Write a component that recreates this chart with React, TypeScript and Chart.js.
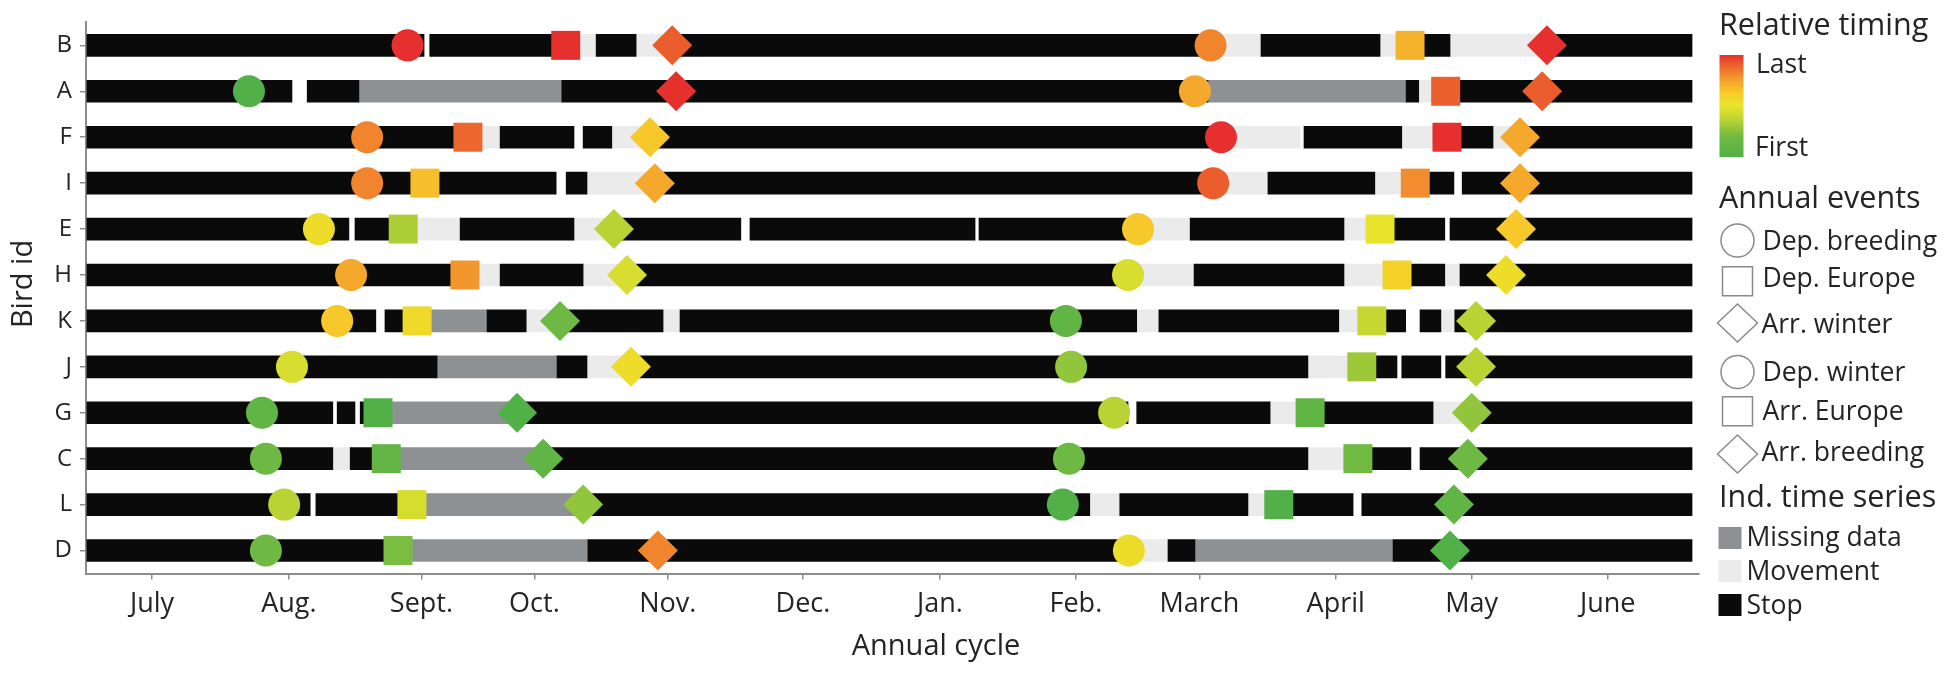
import React, { useEffect, useRef } from 'react';
import { Chart, registerables } from 'chart.js';

Chart.register(...registerables);

// ---------- data ----------
const birds = ['B', 'A', 'F', 'I', 'E', 'H', 'K', 'J', 'G', 'C', 'L', 'D'];

// x axis: days since 1 July (tick positions)
const monthTicks = [0, 31.5, 62, 88, 118.7, 149.8, 181.3, 212.6, 241, 272.4, 303.7, 335];
const monthLabels = ['July', 'Aug.', 'Sept.', 'Oct.', 'Nov.', 'Dec.', 'Jan.', 'Feb.', 'March', 'April', 'May', 'June'];

// annual events (day of cycle), order follows `birds`
const depBreeding = [58.8, 22.3, 49.5, 49.5, 38.4, 45.8, 42.6, 32.2, 25.3, 26.2, 30.4, 26.2];
const depEurope = [95.2, null, 72.7, 62.8, 57.8, 72.0, 61.0, null, 52.0, 53.9, 59.8, 56.6];
const arrWinter = [119.7, 120.6, 114.6, 115.7, 106.3, 109.3, 93.9, 110.2, 84.0, 90.0, 99.2, 116.4];
const depWinter = [243.6, 240.0, 246.0, 244.2, 226.9, 224.6, 210.3, 211.5, 221.4, 211.0, 209.6, 224.8];
const arrEurope = [289.5, 297.7, 298.0, 290.7, 282.6, 286.5, 280.7, 278.4, 266.5, 277.5, 259.3, null];
const arrBreeding = [321.0, 319.9, 314.8, 314.8, 313.9, 311.6, 304.7, 304.7, 303.7, 302.8, 299.6, 298.7];

// individual time series: [bird, start, end]
const stopSegments: [string, number, number][] = [
  ['B', -15, 62.6], ['B', 63.9, 95.0], ['B', 102.2, 111.4], ['B', 119.7, 243.6], ['B', 255.2, 282.6], ['B', 289.5, 298.7], ['B', 321.0, 354.4],
  ['A', -15, 32.2], ['A', 35.7, 47.6], ['A', 94.3, 243.0], ['A', 288.6, 291.5], ['A', 297.7, 354.4],
  ['F', -15, 72.7], ['F', 80.1, 97.1], ['F', 99.2, 105.8], ['F', 114.6, 246.0], ['F', 265.1, 287.6], ['F', 298.0, 308.6], ['F', 314.8, 354.4],
  ['I', -15, 93.0], ['I', 95.3, 100.1], ['I', 115.7, 244.2], ['I', 256.8, 281.4], ['I', 290.7, 299.6], ['I', 301.5, 354.4],
  ['E', -15, 45.3], ['E', 46.7, 57.8], ['E', 70.9, 97.1], ['E', 106.3, 135.5], ['E', 137.6, 189.4], ['E', 190.3, 226.9], ['E', 238.9, 274.3], ['E', 282.6, 297.5], ['E', 298.7, 354.4],
  ['H', -15, 72.0], ['H', 80.1, 99.2], ['H', 109.3, 224.6], ['H', 239.8, 274.3], ['H', 286.5, 297.5], ['H', 301.0, 354.4],
  ['K', -15, 51.5], ['K', 53.6, 61.0], ['K', 77.1, 86.1], ['K', 93.9, 117.6], ['K', 121.5, 226.6], ['K', 231.7, 273.1], ['K', 280.7, 288.5], ['K', 291.8, 296.6], ['K', 299.8, 354.4],
  ['J', -15, 65.6], ['J', 93.2, 100.1], ['J', 110.2, 266.0], ['J', 278.4, 286.5], ['J', 287.6, 296.6], ['J', 297.7, 354.4],
  ['G', -15, 41.6], ['G', 42.6, 46.7], ['G', 47.9, 52.0], ['G', 84.0, 224.6], ['G', 226.6, 257.3], ['G', 266.5, 294.8], ['G', 303.7, 354.4],
  ['C', -15, 41.6], ['C', 45.6, 53.9], ['C', 90.0, 266.0], ['C', 277.5, 289.7], ['C', 291.8, 354.4],
  ['L', -15, 36.4], ['L', 37.7, 59.8], ['L', 99.2, 215.8], ['L', 222.7, 252.2], ['L', 259.3, 276.4], ['L', 278.4, 354.4],
  ['D', -15, 56.6], ['D', 100.3, 224.6], ['D', 233.8, 240.0], ['D', 285.6, 354.4],
];
const movementSegments: [string, number, number][] = [
  ['B', 95.0, 102.2], ['B', 111.4, 119.7], ['B', 243.6, 255.2], ['B', 282.6, 289.5], ['B', 298.7, 321.0],
  ['A', 291.5, 297.7],
  ['F', 72.7, 80.1], ['F', 105.8, 114.6], ['F', 246.0, 264.2], ['F', 287.6, 298.0], ['F', 308.6, 314.8],
  ['I', 100.1, 115.7], ['I', 244.2, 256.8], ['I', 281.4, 290.7],
  ['E', 57.8, 70.9], ['E', 97.1, 106.3], ['E', 226.9, 238.9], ['E', 274.3, 282.6],
  ['H', 72.0, 80.1], ['H', 99.2, 109.3], ['H', 224.6, 239.8], ['H', 274.3, 286.5], ['H', 297.5, 301.0],
  ['K', 86.1, 93.9], ['K', 117.6, 121.5], ['K', 226.6, 231.7], ['K', 273.1, 280.7], ['K', 296.6, 299.8],
  ['J', 100.1, 110.2], ['J', 266.0, 278.4],
  ['G', 257.3, 266.5], ['G', 294.8, 303.7],
  ['C', 41.6, 45.6], ['C', 266.0, 277.5],
  ['L', 215.8, 222.7], ['L', 252.2, 259.3],
  ['D', 224.6, 233.8],
];
const missingSegments: [string, number, number][] = [
  ['A', 47.6, 94.3], ['A', 243.0, 288.6],
  ['K', 61.0, 77.1],
  ['J', 65.6, 93.2],
  ['G', 52.0, 84.0],
  ['C', 53.9, 90.0],
  ['L', 59.8, 99.2],
  ['D', 56.6, 100.3], ['D', 240.0, 285.6],
];

// ---------- styles ----------
const FONT = '"Open Sans", Lato, sans-serif';
const TEXT = '#242424';
const AXIS = '#8c8c8c';
const STOP = '#0a0a0a';
const MOVE = '#ebebeb';
const MISS = '#8e9194';

const gradStops: [number, number[]][] = [
  [0, [82, 176, 72]],
  [0.2, [112, 186, 66]],
  [0.36, [184, 210, 52]],
  [0.5, [232, 228, 44]],
  [0.62, [248, 206, 40]],
  [0.76, [243, 158, 46]],
  [0.89, [236, 102, 45]],
  [1, [229, 48, 46]],
];
function timingColor(t: number) {
  for (let i = 1; i < gradStops.length; i++) {
    const [t1, c1] = gradStops[i];
    const [t0, c0] = gradStops[i - 1];
    if (t <= t1) {
      const f = (t - t0) / (t1 - t0);
      const c = c0.map((v, k) => Math.round(v + (c1[k] - v) * f));
      return `rgb(${c[0]},${c[1]},${c[2]})`;
    }
  }
  const c = gradStops[gradStops.length - 1][1];
  return `rgb(${c[0]},${c[1]},${c[2]})`;
}
function rankColors(values: (number | null)[]) {
  const valid = values.filter((v) => v != null) as number[];
  const n = valid.length;
  return values
    .filter((v) => v != null)
    .map((v) => timingColor(valid.filter((u) => u < (v as number)).length / (n - 1)));
}

const eventDefs = [
  { label: 'Dep. breeding', values: depBreeding, style: 'circle', radius: 16 },
  { label: 'Dep. Europe', values: depEurope, style: 'rect', radius: 20.5 },
  { label: 'Arr. winter', values: arrWinter, style: 'rectRot', radius: 20 },
  { label: 'Dep. winter', values: depWinter, style: 'circle', radius: 16 },
  { label: 'Arr. Europe', values: arrEurope, style: 'rect', radius: 20.5 },
  { label: 'Arr. breeding', values: arrBreeding, style: 'rectRot', radius: 20 },
];

const overlayPlugin = {
  id: 'overlay',
  afterDraw(chart: any) {
    const ctx = chart.ctx as CanvasRenderingContext2D;
    ctx.save();
    ctx.fillStyle = TEXT;
    ctx.textBaseline = 'alphabetic';
    ctx.textAlign = 'center';
    ctx.font = `29px ${FONT}`;
    ctx.fillText('Annual cycle', 936, 655);
    ctx.save();
    ctx.translate(32, 284);
    ctx.rotate(-Math.PI / 2);
    ctx.fillText('Bird id', 0, 0);
    ctx.restore();

    // legend
    ctx.textAlign = 'left';
    const head = `30.5px ${FONT}`;
    const item = `26.5px ${FONT}`;
    ctx.font = head;
    ctx.fillText('Relative timing', 1719, 35);
    const g = ctx.createLinearGradient(0, 157, 0, 55);
    gradStops.forEach(([t, c]) => g.addColorStop(t, `rgb(${c[0]},${c[1]},${c[2]})`));
    ctx.fillStyle = g;
    ctx.fillRect(1719.5, 55, 24, 102);
    ctx.fillStyle = TEXT;
    ctx.font = item;
    ctx.fillText('Last', 1756, 73);
    ctx.fillText('First', 1755, 156);
    ctx.font = head;
    ctx.fillText('Annual events', 1719, 208);

    const symY = [240.5, 281.3, 323, 372, 411.3, 454];
    const textY = [250, 287, 333, 381, 419.5, 461];
    ctx.strokeStyle = '#8a8a8a';
    ctx.lineWidth = 1.5;
    eventDefs.forEach((ev, i) => {
      const cx = 1737.5, cy = symY[i];
      ctx.fillStyle = '#ffffff';
      ctx.beginPath();
      if (ev.style === 'circle') ctx.ellipse(cx, cy, 16.5, 16.5, 0, 0, Math.PI * 2);
      else if (ev.style === 'rect') ctx.rect(cx - 15, cy - 14.5, 30, 29);
      else { ctx.moveTo(cx - 20, cy); ctx.lineTo(cx, cy - 19); ctx.lineTo(cx + 20, cy); ctx.lineTo(cx, cy + 19); ctx.closePath(); }
      ctx.fill();
      ctx.stroke();
      ctx.fillStyle = TEXT;
      ctx.font = item;
      ctx.fillText(ev.label, ev.style === 'rectRot' ? 1761.5 : 1762.5, textY[i]);
    });

    ctx.font = head;
    ctx.fillText('Ind. time series', 1719, 507);
    const boxes: [string, string, number, number][] = [
      [MISS, 'Missing data', 527, 546],
      [MOVE, 'Movement', 560, 580],
      [STOP, 'Stop', 594, 613.5],
    ];
    ctx.font = item;
    boxes.forEach(([c, label, y, by]) => {
      ctx.fillStyle = c;
      ctx.fillRect(1718.5, y, 23, 22);
      ctx.fillStyle = TEXT;
      ctx.fillText(label, 1746.5, by);
    });
    ctx.restore();
  },
};

export default function App() {
  const ref = useRef<HTMLCanvasElement | null>(null);

  useEffect(() => {
    if (!ref.current) return;
    const segData = [
      ...missingSegments.map(([b, s, e]) => ({ x: [s, e], y: b, kind: 'miss' })),
      ...movementSegments.map(([b, s, e]) => ({ x: [s, e], y: b, kind: 'move' })),
      ...stopSegments.map(([b, s, e]) => ({ x: [s, e], y: b, kind: 'stop' })),
    ];
    const colorOf: Record<string, string> = { miss: MISS, move: MOVE, stop: STOP };

    const markerSets = eventDefs.map((ev) => {
      const pts = birds
        .map((b, i) => ({ x: ev.values[i] as number | null, y: b }))
        .filter((p) => p.x != null);
      const cols = rankColors(ev.values);
      return {
        type: 'scatter' as const,
        label: ev.label,
        data: pts,
        pointStyle: ev.style,
        pointRadius: ev.radius,
        pointHoverRadius: ev.radius,
        pointBackgroundColor: cols,
        pointBorderColor: cols,
        pointBorderWidth: 0,
        order: 1,
        clip: false,
      };
    });

    const chart = new Chart(ref.current, {
      type: 'bar',
      data: {
        labels: birds,
        datasets: [
          {
            type: 'bar',
            label: 'segments',
            data: segData as any,
            backgroundColor: segData.map((d) => colorOf[d.kind]),
            borderWidth: 0,
            borderSkipped: false,
            barThickness: 22,
            order: 2,
          } as any,
          ...(markerSets as any[]),
        ],
      },
      options: {
        indexAxis: 'y',
        animation: false,
        responsive: false,
        devicePixelRatio: 1,
        events: [],
        layout: { padding: { top: 16, right: 251, left: 0, bottom: 0 } },
        plugins: { legend: { display: false }, tooltip: { enabled: false } },
        scales: {
          x: {
            type: 'linear',
            min: -15.2,
            max: 356,
            afterBuildTicks: (s: any) => {
              s.ticks = monthTicks.map((v) => ({ value: v }));
            },
            afterFit: (s: any) => {
              s.height = 100.5;
            },
            ticks: {
              callback: (_v: any, i: number) => monthLabels[i],
              font: { family: FONT, size: 27 },
              color: TEXT,
              padding: 9,
              maxRotation: 0,
              autoSkip: false,
            },
            grid: { drawOnChartArea: false, drawTicks: true, tickLength: 6, color: AXIS, lineWidth: 1.5 },
            border: { display: true, color: AXIS, width: 2 },
          },
          y: {
            type: 'category',
            labels: birds,
            offset: true,
            afterFit: (s: any) => {
              s.width = 86;
            },
            ticks: { font: { family: FONT, size: 24 }, color: TEXT, padding: 8 },
            grid: { offset: false, drawOnChartArea: false, drawTicks: true, tickLength: 6, color: AXIS, lineWidth: 1.5 },
            border: { display: true, color: AXIS, width: 2 },
          },
        },
      } as any,
      plugins: [overlayPlugin],
    });
    return () => chart.destroy();
  }, []);

  return (
    <div style={{ position: 'absolute', left: 0, top: 0, width: 1950, height: 674, background: '#fff' }}>
      <canvas ref={ref} width={1950} height={674} style={{ display: 'block' }} />
    </div>
  );
}
